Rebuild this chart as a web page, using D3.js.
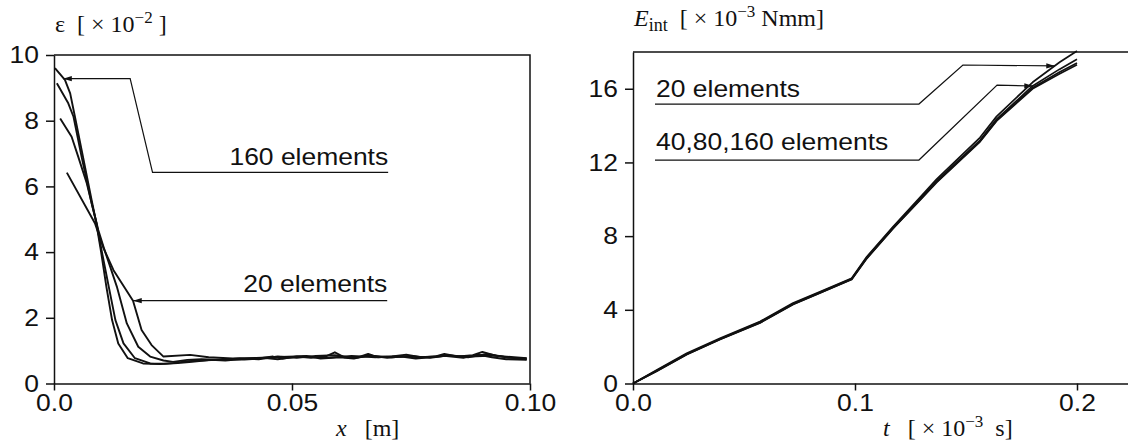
<!DOCTYPE html>
<html>
<head>
<meta charset="utf-8">
<script src="https://cdn.jsdelivr.net/npm/d3@7"></script>
<style>
	body{margin:0;background:#fff}
	svg{display:block}
	text{fill:#111}
	.sans{font-family:"Liberation Sans",Arial,Helvetica,sans-serif;font-size:23px}
	.serif{font-family:"Liberation Serif","Times New Roman",serif;font-size:24px;white-space:pre}
</style>
</head>
<body>
<div id="chart"></div>
<script>
// ---- left panel : strain along the bar  (x [m], eps [x10^-2])
const strain20 = [[0.0027,6.42],[0.0086,4.88],[0.0104,4.12],[0.0125,3.45],[0.0166,2.52],[0.0184,1.63],[0.0205,1.17],[0.0230,0.82],[0.0286,0.87],
	[0.0325,0.80],[0.0375,0.76],[0.0425,0.78],[0.0475,0.81],[0.0525,0.83],[0.0575,0.78],[0.0625,0.84],[0.0675,0.80],[0.0725,0.83],[0.0775,0.80],
	[0.0825,0.84],[0.0875,0.82],[0.0925,0.85],[0.0993,0.77]];
const strain40 = [[0.0013,8.07],[0.0037,7.51],[0.0051,6.90],[0.0069,6.09],[0.0093,4.67],[0.0104,4.16],[0.0132,2.95],[0.0153,1.83],[0.0177,1.12],
	[0.0202,0.82],[0.0230,0.70],[0.0250,0.66],[0.0280,0.72],[0.0310,0.74],[0.0350,0.72],[0.0390,0.76],[0.0430,0.74],[0.0470,0.82],[0.0510,0.78],
	[0.0550,0.84],[0.0590,0.86],[0.0630,0.78],[0.0670,0.84],[0.0710,0.80],[0.0750,0.84],[0.0790,0.78],[0.0830,0.86],[0.0870,0.80],[0.0910,0.90],
	[0.0950,0.80],[0.0993,0.74]];
const strain80 = [[0.0006,9.14],[0.0030,8.53],[0.0041,8.12],[0.0058,6.90],[0.0079,5.49],[0.0089,4.90],[0.0100,4.05],[0.0115,2.95],[0.0129,1.93],
	[0.0146,1.22],[0.0170,0.77],[0.0202,0.61],[0.0233,0.60],[0.0260,0.62],[0.0290,0.66],[0.0330,0.72],[0.0360,0.70],[0.0400,0.75],[0.0440,0.78],
	[0.0470,0.74],[0.0500,0.80],[0.0530,0.84],[0.0560,0.76],[0.0600,0.80],[0.0630,0.76],[0.0660,0.86],[0.0700,0.78],[0.0730,0.82],[0.0760,0.76],
	[0.0790,0.80],[0.0820,0.84],[0.0860,0.78],[0.0890,0.88],[0.0920,0.80],[0.0950,0.74],[0.0993,0.72]];
const strain160 = [[0.0002,9.60],[0.0023,9.24],[0.0034,8.83],[0.0044,8.12],[0.0058,7.11],[0.0079,5.59],[0.0088,4.95],[0.0099,4.00],[0.0110,2.95],
	[0.0122,1.93],[0.0135,1.22],[0.0155,0.77],[0.0187,0.61],[0.0223,0.59],[0.0250,0.62],[0.0280,0.68],[0.0310,0.70],[0.0340,0.72],[0.0370,0.74],
	[0.0400,0.73],[0.0430,0.76],[0.0460,0.82],[0.0480,0.76],[0.0510,0.82],[0.0540,0.78],[0.0570,0.82],[0.0590,0.95],[0.0610,0.80],[0.0640,0.80],
	[0.0660,0.90],[0.0680,0.80],[0.0710,0.82],[0.0740,0.88],[0.0770,0.80],[0.0800,0.82],[0.0820,0.90],[0.0850,0.82],[0.0880,0.86],[0.0900,0.96],
	[0.0930,0.84],[0.0960,0.78],[0.0993,0.76]];
const strainTicks = [0,2,4,6,8,10];
const xTicksL = [0,0.05,0.1];
const xTickLabelsL = ["0.0","0.05","0.10"];

// ---- right panel : internal energy  (t [x10^-3 s], E [x10^-3 Nmm])
const energy20 = [[0,0],[0.0107,0.73],[0.0242,1.64],[0.0392,2.45],[0.0572,3.36],[0.0721,4.37],[0.0842,4.98],[0.0985,5.71],[0.1053,6.88],
	[0.1171,8.51],[0.1293,10.10],[0.1368,11.10],[0.1563,13.35],[0.1638,14.50],[0.1800,16.35],[0.1923,17.45],[0.2000,18.05]];
const energy40 = [[0,0],[0.0107,0.70],[0.0242,1.60],[0.0392,2.42],[0.0572,3.33],[0.0721,4.33],[0.0842,4.95],[0.0985,5.68],[0.1053,6.84],
	[0.1171,8.46],[0.1293,10.02],[0.1368,11.00],[0.1563,13.20],[0.1638,14.35],[0.1800,16.15],[0.1920,17.05],[0.2000,17.60]];
const energy80 = [[0,0],[0.0107,0.68],[0.0242,1.58],[0.0392,2.40],[0.0572,3.30],[0.0721,4.30],[0.0842,4.92],[0.0985,5.66],[0.1053,6.80],
	[0.1171,8.42],[0.1293,9.98],[0.1368,10.95],[0.1563,13.15],[0.1638,14.28],[0.1800,16.05],[0.1920,16.90],[0.2000,17.40]];
const energy160 = [[0,0],[0.0107,0.67],[0.0242,1.57],[0.0392,2.39],[0.0572,3.29],[0.0721,4.29],[0.0842,4.91],[0.0985,5.65],[0.1053,6.78],
	[0.1171,8.40],[0.1293,9.95],[0.1368,10.92],[0.1563,13.12],[0.1638,14.25],[0.1800,16.00],[0.1920,16.80],[0.2000,17.30]];
const energyTicks = [0,4,8,12,16];
const xTicksR = [0,0.1,0.2];
const xTickLabelsR = ["0.0","0.1","0.2"];

const W = 1128, H = 446, SX = 1.15;

const svg = d3.select("#chart").append("svg")
	.attr("width", W)
	.attr("height", H);

svg.append("defs").append("marker")
	.attr("id", "arrow")
	.attr("viewBox", "0 -4 10 8")
	.attr("refX", 10)
	.attr("refY", 0)
	.attr("markerUnits", "userSpaceOnUse")
	.attr("markerWidth", 10)
	.attr("markerHeight", 7)
	.attr("orient", "auto")
	.append("path")
	.attr("d", "M0,-3L10,0L0,3Z")
	.attr("fill", "#111");

const
	xL = d3.scaleLinear().domain([0, 0.1]).range([54, 530]),
	yL = d3.scaleLinear().domain([0, 10]).range([383.5, 55]),
	xR = d3.scaleLinear().domain([0, 0.23]).range([633, 633 + 0.23 * 2220]),
	yR = d3.scaleLinear().domain([0, 18]).range([383.5, 51.9]);

function styleAxis(g, left){
	g.selectAll("path, line").attr("stroke", "#111").attr("stroke-width", 1.5);
	g.selectAll("text")
		.attr("class", "sans")
		.attr("fill", "#111")
		.attr("transform", `scale(${SX},1)`)
		.attr("x", function(){ return (+this.getAttribute("x") || 0) / SX; });
	if (left) g.selectAll("text").attr("dy", "0.34em");
	g.attr("font-size", null).attr("font-family", null);
}

// left axes + frame
svg.append("g")
	.attr("transform", `translate(${xL(0)},0)`)
	.call(d3.axisLeft(yL).tickValues(strainTicks).tickFormat(d3.format("d")).tickSize(8).tickPadding(7).tickSizeOuter(0))
	.call(g => styleAxis(g, true));
svg.append("g")
	.attr("transform", `translate(0,${yL(0)})`)
	.call(d3.axisBottom(xL).tickValues(xTicksL).tickFormat((d, i) => xTickLabelsL[i]).tickSize(7).tickPadding(4).tickSizeOuter(0))
	.call(g => styleAxis(g, false));
svg.append("path")
	.attr("d", `M${xL(0)},${yL(10)}H${xL(0.1)}V${yL(0)}`)
	.attr("fill", "none").attr("stroke", "#111").attr("stroke-width", 1.5);

// right axes + top frame
svg.append("g")
	.attr("transform", `translate(${xR(0)},0)`)
	.call(d3.axisLeft(yR).tickValues(energyTicks).tickFormat(d3.format("d")).tickSize(8).tickPadding(7).tickSizeOuter(0))
	.call(g => styleAxis(g, true));
svg.append("g")
	.attr("transform", `translate(0,${yR(0)})`)
	.call(d3.axisBottom(xR).tickValues(xTicksR).tickFormat((d, i) => xTickLabelsR[i]).tickSize(7).tickPadding(4).tickSizeOuter(0))
	.call(g => styleAxis(g, false));
svg.append("path")
	.attr("d", `M${xR(0)},${yR(18)}H${W}`)
	.attr("fill", "none").attr("stroke", "#111").attr("stroke-width", 1.5);

// curves
const lineL = d3.line().x(d => xL(d[0])).y(d => yL(d[1]));
const lineR = d3.line().x(d => xR(d[0])).y(d => yR(d[1]));

svg.append("g")
	.attr("fill", "none").attr("stroke", "#111").attr("stroke-width", 1.9).attr("stroke-linejoin", "round")
	.selectAll("path")
	.data([strain20, strain40, strain80, strain160])
	.join("path")
	.attr("d", lineL);

svg.append("g")
	.attr("fill", "none").attr("stroke", "#111").attr("stroke-width", 1.7).attr("stroke-linejoin", "round")
	.selectAll("path")
	.data([energy20, energy40, energy80, energy160])
	.join("path")
	.attr("d", lineR);

// annotations (data units)
const leaders = [
	{pts: [[0.0702,6.43],[0.0207,6.43],[0.016,9.28],[0.0019,9.28]], x: xL, y: yL},
	{pts: [[0.0700,2.52],[0.0166,2.52]], x: xL, y: yL},
	{pts: [[0.0099,15.17],[0.1288,15.17],[0.1486,17.29],[0.1901,17.24]], x: xR, y: yR},
	{pts: [[0.0099,12.13],[0.1288,12.13],[0.164,16.2],[0.1802,16.15]], x: xR, y: yR}
];
svg.append("g")
	.attr("fill", "none").attr("stroke", "#111").attr("stroke-width", 1.2)
	.selectAll("path")
	.data(leaders)
	.join("path")
	.attr("d", d => d3.line().x(p => d.x(p[0])).y(p => d.y(p[1]))(d.pts))
	.attr("marker-end", "url(#arrow)");

const notes = [
	{text: "160 elements", px: xL(0.0702), py: yL(6.65), anchor: "end"},
	{text: "20 elements", px: xL(0.0700), py: yL(2.79), anchor: "end"},
	{text: "20 elements", px: xR(0.0104), py: yR(15.55), anchor: "start"},
	{text: "40,80,160 elements", px: xR(0.0104), py: yR(12.68), anchor: "start"}
];
svg.append("g")
	.selectAll("text")
	.data(notes)
	.join("text")
	.attr("class", "sans")
	.attr("text-anchor", d => d.anchor)
	.attr("transform", d => `translate(${d.px},${d.py}) scale(${SX},1)`)
	.text(d => d.text);

// axis titles
const tl = svg.append("text").attr("class", "serif").attr("x", 55).attr("y", 32);
tl.append("tspan").text("ε  [ × 10");
tl.append("tspan").attr("font-size", 17).attr("dy", -9).text("−2");
tl.append("tspan").attr("dy", 9).text(" ]");

const tr = svg.append("text").attr("class", "serif").attr("x", 634).attr("y", 26);
tr.append("tspan").attr("font-style", "italic").text("E");
tr.append("tspan").attr("font-size", 18).attr("dy", 5).text("int");
tr.append("tspan").attr("dy", -5).text("  [ × 10");
tr.append("tspan").attr("font-size", 17).attr("dy", -9).text("−3");
tr.append("tspan").attr("dy", 9).text(" Nmm]");

const bl = svg.append("text").attr("class", "serif").attr("x", 336).attr("y", 436);
bl.append("tspan").attr("font-style", "italic").text("x");
bl.append("tspan").text("   [m]");

const br = svg.append("text").attr("class", "serif").attr("x", 883).attr("y", 436);
br.append("tspan").attr("font-style", "italic").text("t");
br.append("tspan").text("   [ × 10");
br.append("tspan").attr("font-size", 17).attr("dy", -9).text("−3");
br.append("tspan").attr("dy", 9).text("  s]");
</script>
</body>
</html>
